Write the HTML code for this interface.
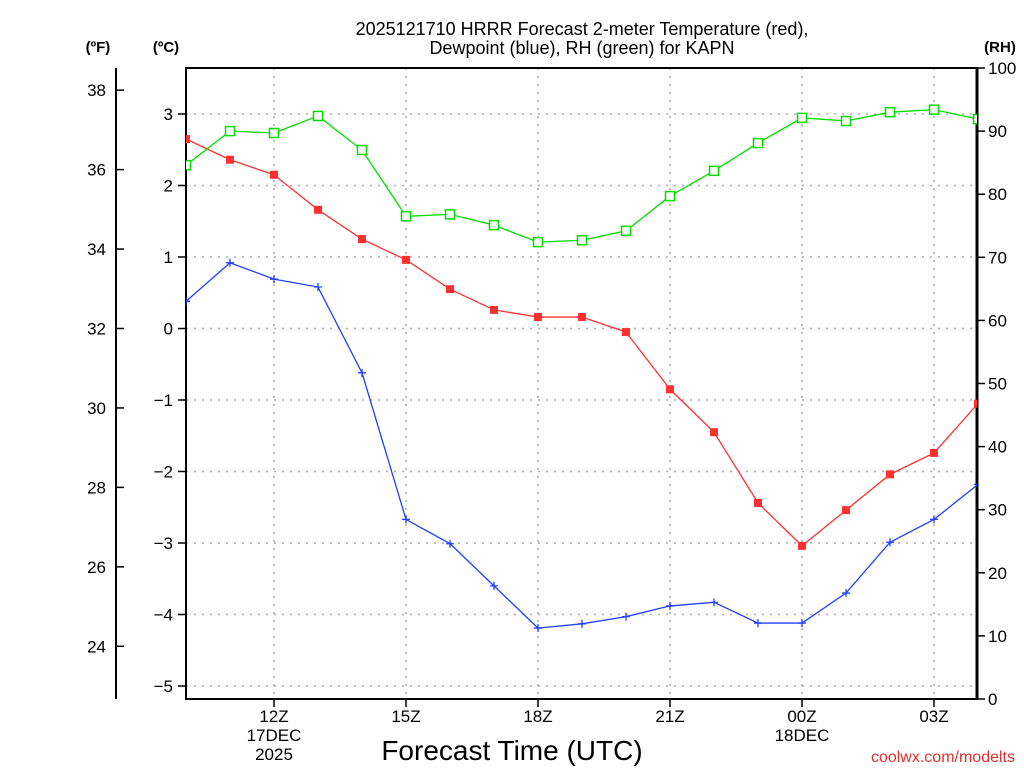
<!DOCTYPE html>
<html><head><meta charset="utf-8"><style>
body{margin:0;background:#fff;}
svg{display:block;font-family:"Liberation Sans","DejaVu Sans",sans-serif;}
</style></head><body>
<svg id="chart" width="1024" height="768" viewBox="0 0 1024 768" xmlns="http://www.w3.org/2000/svg">
<text x="582" y="35" text-anchor="middle" font-size="18">2025121710 HRRR Forecast 2-meter Temperature (red),</text>
<text x="582" y="54" text-anchor="middle" font-size="18">Dewpoint (blue), RH (green) for KAPN</text>
<text x="98" y="52" text-anchor="middle" font-size="15" font-weight="bold">(ºF)</text>
<text x="166" y="52" text-anchor="middle" font-size="15" font-weight="bold">(ºC)</text>
<text x="1000" y="52" text-anchor="middle" font-size="15" font-weight="bold">(RH)</text>
<text x="512" y="760" text-anchor="middle" font-size="28">Forecast Time (UTC)</text>
<text x="1015" y="762" text-anchor="end" font-size="16" fill="#e03030">coolwx.com/modelts</text>
<g id="grid"></g><g id="axes"></g><g id="series"></g>
</svg>
<script>
const hours = [10,11,12,13,14,15,16,17,18,19,20,21,22,23,24,25,26,27,28];
const tempC = [2.65,2.36,2.15,1.66,1.25,0.96,0.55,0.26,0.16,0.16,-0.05,-0.85,-1.45,-2.44,-3.04,-2.54,-2.04,-1.74,-1.05];
const dewC = [0.38,0.92,0.69,0.58,-0.62,-2.67,-3.01,-3.6,-4.19,-4.13,-4.03,-3.88,-3.83,-4.12,-4.12,-3.70,-2.99,-2.67,-2.18];
const rh = [84.6,90.0,89.7,92.4,87.0,76.5,76.8,75.1,72.4,72.7,74.2,79.7,83.7,88.1,92.1,91.6,93.0,93.4,91.9];
const cTicks = [-5,-4,-3,-2,-1,0,1,2,3];
const fTicks = [24,26,28,30,32,34,36,38];
const rhTicks = [0,10,20,30,40,50,60,70,80,90,100];
const xTickHours = [12,15,18,21,24,27];
const xTickLabels = ["12Z","15Z","18Z","21Z","00Z","03Z"];

const L=186,R=977,T=68,B=699;
const NS="http://www.w3.org/2000/svg";
const x=h=>L+(h-10)*44;
const yC=c=>328.5-c*71.5;
const yF=f=>yC((f-32)*5/9);
const yR=r=>B-r*(B-T)/100;
function mk(tag,attrs,parent,text){const e=document.createElementNS(NS,tag);for(const k in attrs)e.setAttribute(k,attrs[k]);if(text!==undefined)e.textContent=text;parent.appendChild(e);return e;}
const grid=document.getElementById('grid'),axes=document.getElementById('axes'),ser=document.getElementById('series');
cTicks.forEach(c=>{const l=mk('line',{x1:L,x2:R,y1:yC(c),y2:yC(c),stroke:'#aaa','stroke-width':1.5,'stroke-dasharray':'2 6'},grid);

const t=mk('text',{x:173,y:yC(c)+6,'text-anchor':'end','font-size':17},axes,(c<0?'\u2212'+(-c):c));

mk('line',{x1:L-8,x2:L,y1:yC(c),y2:yC(c),stroke:'#000','stroke-width':1.5},axes);});
xTickHours.forEach((h,i)=>{const l=mk('line',{x1:x(h),x2:x(h),y1:T,y2:B,stroke:'#aaa','stroke-width':1.5,'stroke-dasharray':'2 6'},grid);

mk('line',{x1:x(h),x2:x(h),y1:B,y2:B+8,stroke:'#000','stroke-width':1.5},axes);
const t=mk('text',{x:x(h),y:722,'text-anchor':'middle','font-size':17},axes,xTickLabels[i]);
});
[[x(12),"17DEC"],[x(12),"2025",19],[x(24),"18DEC"]].forEach(a=>{const t=mk('text',{x:a[0],y:741+(a[2]||0),'text-anchor':'middle','font-size':17},axes,a[1]);
});
fTicks.forEach(f=>{mk('line',{x1:116,x2:124,y1:yF(f),y2:yF(f),stroke:'#000','stroke-width':1.5},axes);
const t=mk('text',{x:106,y:yF(f)+6,'text-anchor':'end','font-size':17},axes,f);
});
rhTicks.forEach(r=>{mk('line',{x1:R,x2:R+8,y1:yR(r),y2:yR(r),stroke:'#000','stroke-width':1.5},axes);
const t=mk('text',{x:988,y:yR(r)+6,'font-size':17},axes,r);
});
const fr=mk('rect',{x:L,y:T,width:R-L,height:B-T,fill:'none',stroke:'#000','stroke-width':2},axes);

const ra=mk('line',{x1:R,x2:R,y1:T,y2:B,stroke:'#000','stroke-width':3},axes);

const fa=mk('line',{x1:116,x2:116,y1:T,y2:B,stroke:'#000','stroke-width':2},axes);


const clip=mk('clipPath',{id:'pc'},ser);mk('rect',{x:L,y:T,width:R-L,height:B-T},clip);
const g=mk('g',{'clip-path':'url(#pc)'},ser);
function line(vals,yf,color,name){const p=mk('polyline',{points:vals.map((v,i)=>x(hours[i])+','+yf(v)).join(' '),fill:'none',stroke:color,'stroke-width':1.3},g);
}
line(tempC,yC,'#ff3030','temperature-line');
line(dewC,yC,'#2040ff','dewpoint-line');
line(rh,yR,'#00dd00','rh-line');
tempC.forEach((v,i)=>{const r=mk('rect',{x:x(hours[i])-4,y:yC(v)-4,width:8,height:8,fill:'#ff3030'},g);
});
dewC.forEach((v,i)=>{const px=x(hours[i]),py=yC(v);const p=mk('path',{d:`M${px-4},${py}H${px+4}M${px},${py-4}V${py+4}`,stroke:'#2040ff','stroke-width':1.3},g);
});
rh.forEach((v,i)=>{const r=mk('rect',{x:x(hours[i])-4.5,y:yR(v)-4.5,width:9,height:9,fill:'#fff',stroke:'#00dd00','stroke-width':1.5},g);
});
</script>
</body></html>
